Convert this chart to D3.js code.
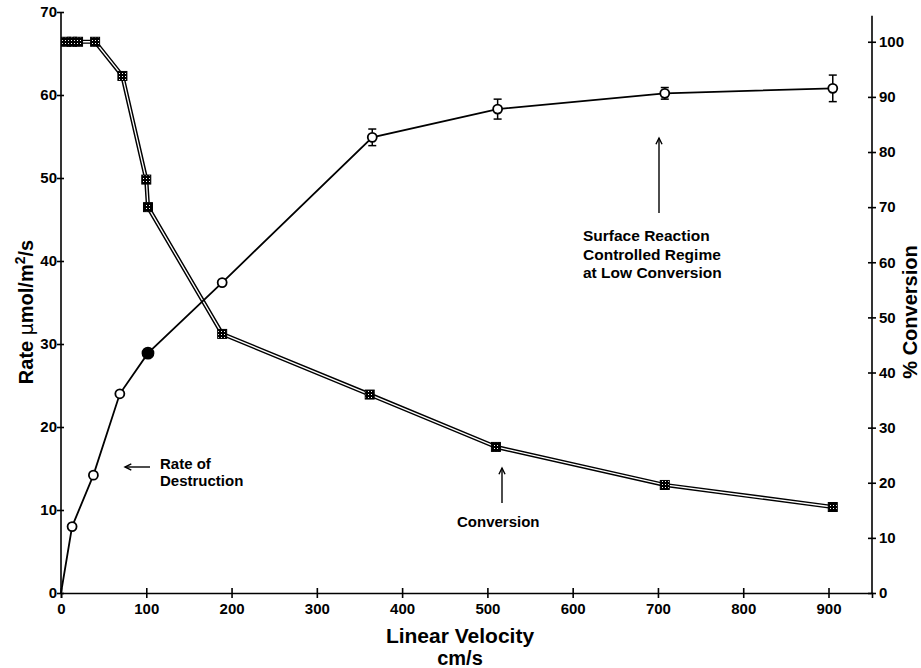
<!DOCTYPE html>
<html>
<head>
<meta charset="utf-8">
<script src="https://cdn.jsdelivr.net/npm/d3@7"></script>
<style>
body { margin: 0; background: #fff; }
svg text { font-family: "Liberation Sans", Arial, sans-serif; font-weight: bold; fill: #000; }
</style>
</head>
<body>
<script>
// rate of destruction (left axis), circles
var rateX   = [0, 13, 38, 69, 102, 189, 365, 512, 708, 905];
var rateY   = [0, 8, 14.2, 24, 28.9, 37.4, 54.9, 58.3, 60.2, 60.8];
var rateErr = [0, 0, 0, 0, 0, 0, 1.0, 1.2, 0.7, 1.6];

// conversion (right axis), squares, double line
var convX = [6, 13, 20, 40, 72, 100, 102, 189, 362, 510, 708, 905];
var convY = [100, 100, 100, 100, 93.8, 75, 70, 47, 36, 26.5, 19.6, 15.6];

var xTicks = [0, 100, 200, 300, 400, 500, 600, 700, 800, 900];
var leftTicks = [0, 10, 20, 30, 40, 50, 60, 70];
var rightTicks = [0, 10, 20, 30, 40, 50, 60, 70, 80, 90, 100];

var W = 921, H = 668;
var margin = {top: 12, right: 49, bottom: 75, left: 61};
var width = W - margin.left - margin.right,
    height = H - margin.top - margin.bottom;

var svg = d3.select("body").append("svg")
    .attr("width", W)
    .attr("height", H);

var defs = svg.append("defs");
var pat = defs.append("pattern")
    .attr("id", "hatch")
    .attr("width", 3).attr("height", 3)
    .attr("patternUnits", "userSpaceOnUse");
pat.append("rect").attr("width", 3).attr("height", 3).attr("fill", "#000");
pat.append("rect").attr("x", 1).attr("y", 1).attr("width", 1).attr("height", 1).attr("fill", "#fff");

var g = svg.append("g")
    .attr("transform", "translate(" + margin.left + "," + margin.top + ")");

var x = d3.scaleLinear().domain([0, 951]).range([0, width]);
var yL = d3.scaleLinear().domain([0, 70]).range([height, 0]);
var yR = d3.scaleLinear().domain([0, 105.4]).range([height, 0]);

// axes
var xAxis = d3.axisBottom(x).tickValues(xTicks).tickSize(5).tickPadding(5);
var gx = g.append("g").attr("transform", "translate(0," + height + ")").call(xAxis);

var lAxis = d3.axisLeft(yL).tickValues(leftTicks).tickSize(4).tickPadding(0);
var gl = g.append("g").call(lAxis);

var rAxis = d3.axisRight(yR).tickValues(rightTicks).tickSize(4).tickPadding(3);
var gr = g.append("g").attr("transform", "translate(" + width + ",0)").call(rAxis);

[gx, gl, gr].forEach(function(a) {
  a.select(".domain").attr("stroke", "#000").attr("stroke-width", 1.6);
  a.selectAll(".tick line").attr("stroke", "#000").attr("stroke-width", 1.6);
  a.selectAll(".tick text").style("font-size", "15px").style("font-family", "Liberation Sans, Arial, sans-serif").style("font-weight", "bold");
});
// ticks cross the axis lines
gx.selectAll(".tick line").attr("y1", -5).attr("y2", 5);
gl.selectAll(".tick line").attr("x1", 3).attr("x2", -4);
gr.selectAll(".tick line").attr("x1", -4).attr("x2", 4);
gl.select(".domain").attr("d", "M0," + height + "V0");
gr.select(".domain").attr("d", "M0," + height + "V" + yR(104.7));

// conversion double line
var conv = convX.map(function(d, i) { return {x: d, y: convY[i]}; });
var convLine = d3.line().x(function(d) { return x(d.x); }).y(function(d) { return yR(d.y); });
g.append("path").datum(conv).attr("d", convLine)
    .attr("fill", "none").attr("stroke", "#000").attr("stroke-width", 4.2).attr("stroke-linejoin", "round");
g.append("path").datum(conv).attr("d", convLine)
    .attr("fill", "none").attr("stroke", "#fff").attr("stroke-width", 1.3).attr("stroke-linejoin", "round");

g.selectAll(".sq").data(conv).enter().append("rect")
    .attr("x", function(d) { return x(d.x) - 4.5; })
    .attr("y", function(d) { return yR(d.y) - 4.5; })
    .attr("width", 9).attr("height", 9)
    .attr("fill", "url(#hatch)").attr("stroke", "#000").attr("stroke-width", 1);

// rate line
var rate = rateX.map(function(d, i) { return {x: d, y: rateY[i], e: rateErr[i]}; });
var rateLine = d3.line().x(function(d) { return x(d.x); }).y(function(d) { return yL(d.y); });
g.append("path").datum(rate).attr("d", rateLine)
    .attr("fill", "none").attr("stroke", "#000").attr("stroke-width", 1.8);

var eb = g.selectAll(".eb").data(rate.filter(function(d) { return d.e > 0; })).enter().append("g");
eb.append("line")
    .attr("x1", function(d) { return x(d.x); }).attr("x2", function(d) { return x(d.x); })
    .attr("y1", function(d) { return yL(d.y - d.e); }).attr("y2", function(d) { return yL(d.y + d.e); })
    .attr("stroke", "#000").attr("stroke-width", 1.5);
[-1, 1].forEach(function(s) {
  eb.append("line")
    .attr("x1", function(d) { return x(d.x) - 4; }).attr("x2", function(d) { return x(d.x) + 4; })
    .attr("y1", function(d) { return yL(d.y + s * d.e); }).attr("y2", function(d) { return yL(d.y + s * d.e); })
    .attr("stroke", "#000").attr("stroke-width", 1.5);
});

g.selectAll(".ci").data(rate.slice(1)).enter().append("circle")
    .attr("cx", function(d) { return x(d.x); })
    .attr("cy", function(d) { return yL(d.y); })
    .attr("r", function(d) { return d.x === 102 ? 5.5 : 4.5; })
    .attr("fill", function(d) { return d.x === 102 ? "#000" : "#fff"; })
    .attr("stroke", "#000").attr("stroke-width", 1.8);

// annotations (page coordinates)
function arrow(x1, y1, x2, y2) {
  svg.append("line").attr("x1", x1).attr("y1", y1).attr("x2", x2).attr("y2", y2)
     .attr("stroke", "#000").attr("stroke-width", 1.4);
  var a = Math.atan2(y2 - y1, x2 - x1), L = 7, s = 0.45;
  svg.append("path")
     .attr("d", "M" + (x2 - L * Math.cos(a - s)) + "," + (y2 - L * Math.sin(a - s)) +
                "L" + x2 + "," + y2 +
                "L" + (x2 - L * Math.cos(a + s)) + "," + (y2 - L * Math.sin(a + s)))
     .attr("fill", "none").attr("stroke", "#000").attr("stroke-width", 1.4);
}

arrow(150, 467, 125, 467);
svg.append("text").attr("x", 160).attr("y", 469).style("font-size", "15px").text("Rate of");
svg.append("text").attr("x", 160).attr("y", 486).style("font-size", "15px").text("Destruction");

arrow(502, 503, 502, 468);
svg.append("text").attr("x", 457).attr("y", 527).style("font-size", "15px").text("Conversion");

arrow(659, 213, 659, 138);
var sr = svg.append("text").attr("x", 583).attr("y", 241).style("font-size", "15.5px");
sr.append("tspan").attr("x", 583).text("Surface Reaction");
sr.append("tspan").attr("x", 583).attr("dy", 18.5).text("Controlled Regime");
sr.append("tspan").attr("x", 583).attr("dy", 18.5).text("at Low Conversion");

// axis titles
svg.append("text").attr("x", 460).attr("y", 643).attr("text-anchor", "middle")
   .style("font-size", "21px").text("Linear Velocity");
svg.append("text").attr("x", 460).attr("y", 665).attr("text-anchor", "middle")
   .style("font-size", "20px").text("cm/s");

var lt = svg.append("text").attr("transform", "translate(33,312) rotate(-90)")
   .attr("text-anchor", "middle").style("font-size", "20px");
lt.append("tspan").text("Rate ");
lt.append("tspan").style("font-weight", "normal").style("font-family", "DejaVu Sans, sans-serif").style("font-size", "19px").text("\u00b5");
lt.append("tspan").text("mol/m");
lt.append("tspan").attr("dy", -8).style("font-size", "14px").text("2");
lt.append("tspan").attr("dy", 8).text("/s");

svg.append("text").attr("transform", "translate(917,312) rotate(-90)")
   .attr("text-anchor", "middle").style("font-size", "20px").text("% Conversion");
</script>
</body>
</html>
